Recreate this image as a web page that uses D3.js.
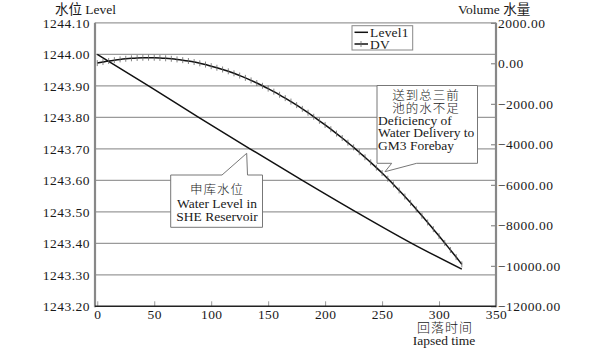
<!DOCTYPE html>
<html><head><meta charset="utf-8">
<script src="https://cdn.jsdelivr.net/npm/d3@7"></script>
<style>
html,body{margin:0;padding:0;background:#fff;}
text{font-family:'Liberation Serif','Noto Sans CJK SC',serif;fill:#1a1a1a;}
.cjk{font-weight:300;}
</style></head>
<body><svg id="c" width="596" height="348"></svg>
<script>
// ---- data ----
const timeDV = [0,5,10,15,20,25,30,35,40,45,50,55,60,65,70,75,80,85,90,95,100,105,110,115,120,125,130,135,140,145,150,155,160,165,170,175,180,185,190,195,200,205,210,215,220,225,230,235,240,245,250,255,260,265,270,275,280,285,290,295,300,305,310,315,320];
const dvValues = [10,63,113,156,193,223,247,264,274,277,274,264,247,223,193,156,113,63,0,-62,-140,-220,-305,-395,-495,-605,-720,-845,-975,-1110,-1250,-1400,-1555,-1720,-1890,-2065,-2250,-2440,-2640,-2840,-3045,-3255,-3470,-3690,-3920,-4150,-4390,-4640,-4890,-5150,-5420,-5700,-5985,-6280,-6580,-6890,-7210,-7530,-7860,-8190,-8530,-8870,-9220,-9570,-9930];
const timeLevel = [0,45,89,134,180,227,276,320];
const levelValues = [1244.00,1243.90,1243.80,1243.70,1243.60,1243.50,1243.40,1243.318];
const xTicks = [0,50,100,150,200,250,300,350];
const levelTicks = [1243.2,1243.3,1243.4,1243.5,1243.6,1243.7,1243.8,1243.9,1244.0,1244.1];
const volTicks = [2000,0,-2000,-4000,-6000,-8000,-10000,-12000];
const seriesNames = ["Level1","DV"];

// ---- layout ----
const L=95, R=496, T=22.8, B=306.3;
const svg = d3.select("#c");
const x = d3.scaleLinear().domain([-2,350]).range([L,R]);
const yL = d3.scaleLinear().domain([1243.2,1244.1]).range([B,T]);
const yR = d3.scaleLinear().domain([-12000,2000]).range([B,T]);

// gridlines
svg.append("g").selectAll("line").data(levelTicks.filter(d=>d>1243.21)).join("line")
  .attr("x1",L).attr("x2",R).attr("y1",d=>yL(d)).attr("y2",d=>yL(d))
  .attr("stroke","#9a9a9a").attr("stroke-width",1.3);

// left axis
const gl = svg.append("g").attr("transform",`translate(${L},0)`)
  .call(d3.axisLeft(yL).tickValues(levelTicks).tickSize(0).tickPadding(5).tickFormat(d3.format(".2f")));
gl.select(".domain").remove();
gl.selectAll("text").style("font-size","13.5px").style("letter-spacing","0.5px").attr("fill","#1a1a1a");

// right axis
const gr = svg.append("g").attr("transform",`translate(${R},0)`)
  .call(d3.axisRight(yR).tickValues(volTicks).tickSize(-5).tickPadding(2).tickFormat(d3.format(".2f")));
gr.select(".domain").remove();
gr.selectAll(".tick line").attr("stroke","#777");
gr.selectAll("text").style("font-size","13.5px").style("letter-spacing","0.5px").attr("fill","#1a1a1a");

// bottom axis
const gb = svg.append("g").attr("transform",`translate(0,${B})`)
  .call(d3.axisBottom(x).tickValues(xTicks).tickSize(-5).tickPadding(3).tickFormat(d3.format("d")));
gb.select(".domain").remove();
gb.selectAll(".tick line").attr("stroke","#999");
gb.selectAll("text").style("font-size","13.5px").style("letter-spacing","0.4px").attr("fill","#1a1a1a");

// axis lines
svg.append("line").attr("x1",L).attr("x2",L).attr("y1",T).attr("y2",B+1).attr("stroke","#888").attr("stroke-width",2.2);
svg.append("line").attr("x1",R).attr("x2",R).attr("y1",T).attr("y2",B+1).attr("stroke","#888").attr("stroke-width",2.2);
svg.append("line").attr("x1",L).attr("x2",R).attr("y1",B).attr("y2",B).attr("stroke","#222").attr("stroke-width",1.6);

// series
const levelLine = d3.line().x((d,i)=>x(timeLevel[i])).y(d=>yL(d)).curve(d3.curveMonotoneX);
svg.append("path").datum(levelValues).attr("d",levelLine).attr("fill","none").attr("stroke","#111").attr("stroke-width",1.5);

const dvLine = d3.line().x((d,i)=>x(timeDV[i])).y(d=>yR(d)).curve(d3.curveMonotoneX);
svg.append("path").datum(dvValues).attr("d",dvLine).attr("fill","none").attr("stroke","#111").attr("stroke-width",1.5);
svg.append("g").selectAll("line").data(dvValues).join("line")
  .attr("x1",(d,i)=>x(timeDV[i])).attr("x2",(d,i)=>x(timeDV[i]))
  .attr("y1",d=>yR(d)-3).attr("y2",d=>yR(d)+3)
  .attr("stroke","#666").attr("stroke-width",0.8);

// legend
const lg = svg.append("g");
lg.append("rect").attr("x",352).attr("y",25.7).attr("width",60.7).attr("height",24.3).attr("fill","#fff").attr("stroke","#888").attr("stroke-width",1);
lg.append("line").attr("x1",354.5).attr("x2",368).attr("y1",32.3).attr("y2",32.3).attr("stroke","#111").attr("stroke-width",1.5);
lg.append("line").attr("x1",354.5).attr("x2",368).attr("y1",44).attr("y2",44).attr("stroke","#111").attr("stroke-width",1.5);
lg.append("line").attr("x1",361).attr("x2",361).attr("y1",41).attr("y2",47).attr("stroke","#666").attr("stroke-width",0.8);
lg.append("text").attr("x",370).attr("y",37.3).style("font-size","13.5px").style("letter-spacing","0.2px").text(seriesNames[0]);
lg.append("text").attr("x",370).attr("y",48.8).style("font-size","13.5px").style("letter-spacing","0.2px").text(seriesNames[1]);

// annotation DV
svg.append("path").attr("d","M377,85.5 H477.5 V163.3 H416.7 L385,171.7 L391.7,163.3 H377 Z")
  .attr("fill","#fff").attr("stroke","#777").attr("stroke-width",1);
const a1 = svg.append("g").style("font-size","13.5px");
a1.append("text").attr("class","cjk").attr("x",426).attr("y",100).attr("text-anchor","middle").style("font-size","12.5px").style("letter-spacing","1px").text("送到总三前");
a1.append("text").attr("class","cjk").attr("x",426).attr("y",112.5).attr("text-anchor","middle").style("font-size","12.5px").style("letter-spacing","1px").text("池的水不足");
a1.append("text").attr("x",378).attr("y",124.5).text("Deficiency of");
a1.append("text").attr("x",378).attr("y",137).text("Water Delivery to");
a1.append("text").attr("x",378).attr("y",150).text("GM3 Forebay");

// annotation Level
svg.append("path").attr("d","M170.7,175 H222 L246.7,153.3 L247.5,175 H262.5 V227.3 H170.7 Z")
  .attr("fill","#fff").attr("stroke","#777").attr("stroke-width",1);
const a2 = svg.append("g").style("font-size","13.5px");
a2.append("text").attr("class","cjk").attr("x",217).attr("y",194).attr("text-anchor","middle").style("font-size","12.5px").style("letter-spacing","1px").text("申库水位");
a2.append("text").attr("x",217).attr("y",207.5).attr("text-anchor","middle").text("Water Level in");
a2.append("text").attr("x",217).attr("y",221).attr("text-anchor","middle").text("SHE Reservoir");

// axis titles
svg.append("text").attr("x",55).attr("y",14).style("font-size","13.5px").text("水位 Level");
svg.append("text").attr("x",458).attr("y",14).style("font-size","13.5px").text("Volume 水量");
svg.append("text").attr("class","cjk").attr("x",445).attr("y",331.5).attr("text-anchor","middle").style("font-size","13px").style("letter-spacing","1px").text("回落时间");
svg.append("text").attr("x",444).attr("y",344.5).attr("text-anchor","middle").style("font-size","13.5px").text("Iapsed time");
</script></body></html>
